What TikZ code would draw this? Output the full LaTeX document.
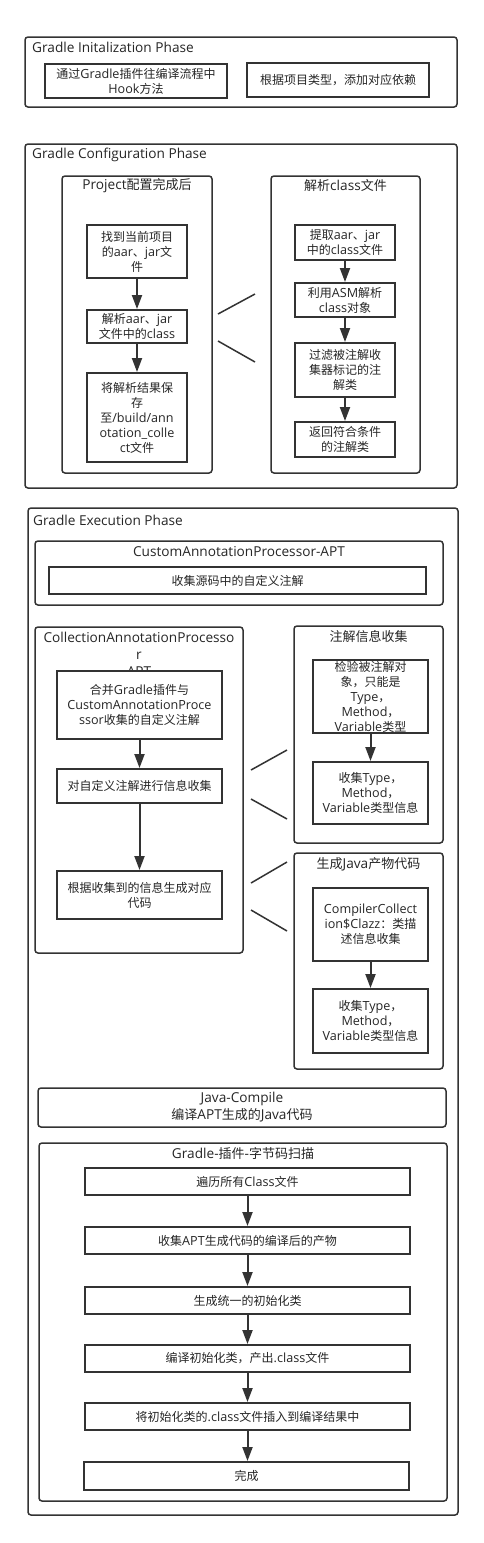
\documentclass[tikz,border=0pt]{standalone}
\usepackage{fontspec}
\setmainfont{Open Sans}[Scale=1.05]
\newfontfamily\cjkfont{Noto Sans CJK SC}
\newfontfamily\latfont{Open Sans}[Scale=1.05]
\usetikzlibrary{arrows.meta}
\XeTeXinterchartokenstate=1
\newXeTeXintercharclass\CJKcls
\newcount\cjkcnt
\cjkcnt="3000
\loop
  \XeTeXcharclass\cjkcnt=\CJKcls
  \ifnum\cjkcnt<"9FFF \advance\cjkcnt by 1
\repeat
\cjkcnt="FF00
\loop
  \XeTeXcharclass\cjkcnt=\CJKcls
  \ifnum\cjkcnt<"FFEF \advance\cjkcnt by 1
\repeat
\XeTeXinterchartoks 0 \CJKcls = {\cjkfont}
\XeTeXinterchartoks 4095 \CJKcls = {\cjkfont}
\XeTeXinterchartoks \CJKcls 0 = {\latfont}
\XeTeXinterchartoks \CJKcls 4095 = {\latfont}
\definecolor{lc}{HTML}{333333}
\definecolor{tc}{HTML}{262626}
\tikzset{
  every node/.style={font=\fontsize{12}{15}\selectfont, text=tc},
  phase/.style={draw=lc, rounded corners=3pt, line width=1.5pt, inner sep=0pt},
  grp/.style={draw=lc, rounded corners=3pt, line width=1.5pt, fill=white, inner sep=0pt, align=center},
  stepbox/.style={draw=lc, line width=2pt, fill=white, align=center, inner sep=0pt},
  ttl/.style={inner sep=0pt, align=center, font=\fontsize{13}{17}\selectfont},
  arr/.style={draw=lc, line width=2pt, -{Triangle[length=14pt,width=10pt]}},
  lnk/.style={draw=lc, line width=1.5pt},
}
\newcommand\mkbox[7]{\node[#2,minimum width={(#5-#3)*1pt},minimum height={(#6-#4)*1pt}] (#1) at ({(#3+#5)/2},{(#4+#6)/2}) {#7};}
\begin{document}
\begin{tikzpicture}[x=1pt,y=-1pt]
\useasboundingbox[fill=white] (0,0) rectangle (484,1543);

% ---------- Initialization phase
\mkbox{pInit}{phase}{25}{37}{457}{107}{}
\node[ttl, anchor=west] (tInit) at (32,47) {Gradle Initalization Phase};
\mkbox{bHook}{stepbox}{45}{64}{227}{98}{通过Gradle插件往编译流程中\\Hook方法}
\mkbox{bDep}{stepbox}{247}{63}{429}{97}{根据项目类型，添加对应依赖}

% ---------- Configuration phase
\mkbox{pConf}{phase}{25}{144}{457}{488}{}
\node[ttl, anchor=west] (tConf) at (32,155) {Gradle Configuration Phase};
\mkbox{gProj}{grp}{62}{176}{212}{473}{}
\node[ttl] (tProj) at (137,186) {Project配置完成后};
\mkbox{gParse}{grp}{271}{176}{420}{473}{}
\node[ttl] (tParse) at (345.5,186) {解析class文件};

\mkbox{s1}{stepbox}{87}{225}{187}{278}{找到当前项目\\的aar、jar文\\件}
\mkbox{s2}{stepbox}{87}{310}{187}{343}{解析aar、jar\\文件中的class}
\mkbox{s3}{stepbox}{87}{373}{187}{462}{将解析结果保\\存\\至/build/ann\\otation\_colle\\ct文件}
\draw[arr] (s1.south) -- (s2.north);
\draw[arr] (s2.south) -- (s3.north);

\mkbox{r1}{stepbox}{295}{225}{395}{260}{提取aar、jar\\中的class文件}
\mkbox{r2}{stepbox}{295}{283}{395}{317}{利用ASM解析\\class对象}
\mkbox{r3}{stepbox}{295}{343}{395}{397}{过滤被注解收\\集器标记的注\\解类}
\mkbox{r4}{stepbox}{295}{422}{395}{457}{返回符合条件\\的注解类}
\draw[arr] (r1.south) -- (r2.north);
\draw[arr] (r2.south) -- (r3.north);
\draw[arr] (r3.south) -- (r4.north);

\coordinate (ca1) at (218,314); \coordinate (ca2) at (255,294);
\coordinate (cb1) at (218,341); \coordinate (cb2) at (255,362);
\draw[lnk] (ca1) -- (ca2);
\draw[lnk] (cb1) -- (cb2);

% ---------- Execution phase
\mkbox{pExec}{phase}{28}{508}{458}{1515}{}
\node[ttl, anchor=west] (tExec) at (33,520) {Gradle Execution Phase};

\mkbox{gCustom}{grp}{35}{541}{443}{605}{}
\node[ttl] (tCustom) at (239,552) {CustomAnnotationProcessor-APT};
\mkbox{c1}{stepbox}{49}{567}{426}{594}{收集源码中的自定义注解}

\mkbox{gColl}{grp}{35}{627}{243}{953}{}
\node[ttl, anchor=north] (tColl) at (139,632) {CollectionAnnotationProcesso\\r\\APT};
\mkbox{cc1}{stepbox}{57}{671}{222}{739}{合并Gradle插件与\\CustomAnnotationProce\\ssor收集的自定义注解}
\mkbox{cc2}{stepbox}{57}{769}{222}{803}{对自定义注解进行信息收集}
\mkbox{cc3}{stepbox}{57}{871}{222}{919}{根据收集到的信息生成对应\\代码}
\draw[arr] (cc1.south) -- (cc2.north);
\draw[arr] (cc2.south) -- (cc3.north);

\mkbox{gInfo}{grp}{294}{626}{443}{843}{}
\node[ttl] (tInfo) at (368.5,637) {注解信息收集};
\mkbox{i1}{stepbox}{313}{660}{428}{733}{检验被注解对\\象，只能是\\Type，\\Method，\\Variable类型}
\mkbox{i2}{stepbox}{313}{762}{428}{824}{收集Type，\\Method，\\Variable类型信息}
\draw[arr] (i1.south) -- (i2.north);

\mkbox{gGen}{grp}{294}{853}{443}{1069}{}
\node[ttl] (tGen) at (368.5,864) {生成Java产物代码};
\mkbox{g1}{stepbox}{313}{888}{428}{961}{CompilerCollect\\ion\$Clazz：类描\\述信息收集}
\mkbox{g2}{stepbox}{313}{989}{428}{1053}{收集Type，\\Method，\\Variable类型信息}
\draw[arr] (g1.south) -- (g2.north);

\coordinate (cc1a) at (251,770); \coordinate (cc1b) at (287,750);
\coordinate (cc2a) at (251,799); \coordinate (cc2b) at (287,819);
\coordinate (cc3a) at (251,883); \coordinate (cc3b) at (287,862);
\coordinate (cc4a) at (251,910); \coordinate (cc4b) at (287,931);
\draw[lnk] (cc1a) -- (cc1b);
\draw[lnk] (cc2a) -- (cc2b);
\draw[lnk] (cc3a) -- (cc3b);
\draw[lnk] (cc4a) -- (cc4b);

\mkbox{gJava}{grp,font=\fontsize{13}{17}\selectfont}{38}{1088}{446}{1127}{Java-Compile\\编译APT生成的Java代码}

\mkbox{gScan}{grp}{39}{1143}{447}{1501}{}
\node[ttl] (tScan) at (243,1154) {Gradle-插件-字节码扫描};
\mkbox{k1}{stepbox}{85}{1168}{410}{1195}{遍历所有Class文件}
\mkbox{k2}{stepbox}{85}{1227}{410}{1254}{收集APT生成代码的编译后的产物}
\mkbox{k3}{stepbox}{85}{1287}{410}{1314}{生成统一的初始化类}
\mkbox{k4}{stepbox}{85}{1345}{410}{1372}{编译初始化类，产出.class文件}
\mkbox{k5}{stepbox}{85}{1403}{410}{1430}{将初始化类的.class文件插入到编译结果中}
\mkbox{k6}{stepbox}{84}{1462}{409}{1490}{完成}
\draw[arr] (k1.south) -- (k2.north);
\draw[arr] (k2.south) -- (k3.north);
\draw[arr] (k3.south) -- (k4.north);
\draw[arr] (k4.south) -- (k5.north);
\draw[arr] (k5.south) -- (k5.south |- k6.north);
\end{tikzpicture}
\end{document}
